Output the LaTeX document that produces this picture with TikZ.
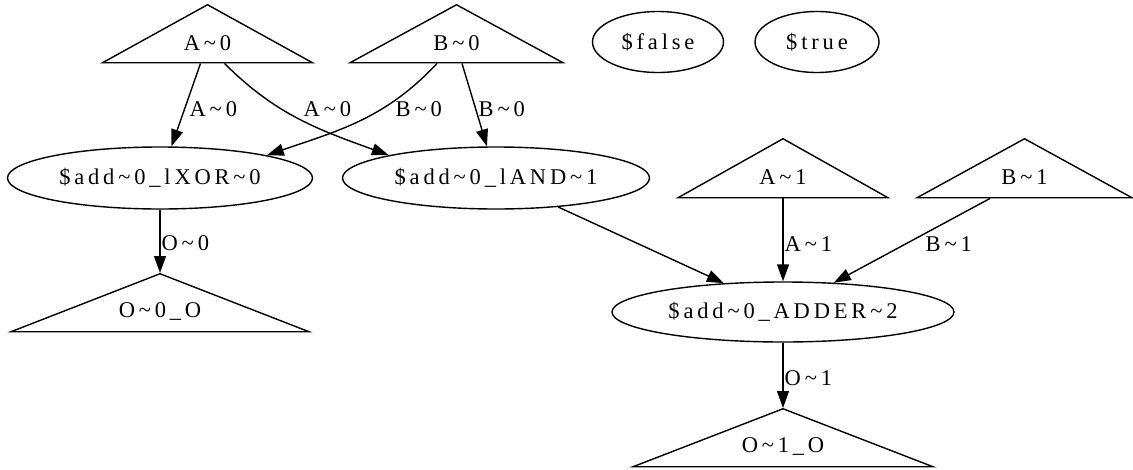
\documentclass[tikz,border=0pt]{standalone}
\usepackage{fontspec}
\setmainfont{Liberation Serif}[LetterSpace=17]
\usetikzlibrary{arrows.meta,shapes.geometric}
\newcommand\tld{\textasciitilde}

\begin{document}
\begin{tikzpicture}[
  x=1pt,y=-1pt,font=\fontsize{22.5}{27}\selectfont,line width=1.4pt,
  port/.style={draw,isosceles triangle,shape border rotate=90,
               isosceles triangle apex angle=140,isosceles triangle stretches,
               inner sep=0pt,anchor=apex},
  cell/.style={draw,ellipse,inner sep=0pt,minimum height=62pt},
  const/.style={draw,ellipse,inner sep=0pt,minimum height=61pt},
  wire/.style={-{Triangle[length=17pt,width=12pt]}},
  lab/.style={anchor=west,inner sep=0pt}
]
\useasboundingbox (0,0) rectangle (1133,469);

% ---- ports in
\node[port,minimum width=210pt,minimum height=58pt] (A0) at (207.5,4) {};
\node[port,minimum width=213pt,minimum height=58pt] (B0) at (456.5,4) {};
\node[port,minimum width=210pt,minimum height=59pt] (A1) at (783,138) {};
\node[port,minimum width=215pt,minimum height=59pt] (B1) at (1024.5,138) {};
\node (A0t) at ([yshift=-39pt]A0.apex) {A\tld0};
\node (B0t) at ([yshift=-39pt]B0.apex) {B\tld0};
\node (A1t) at ([yshift=-39pt]A1.apex) {A\tld1};
\node (B1t) at ([yshift=-39pt]B1.apex) {B\tld1};

% ---- constants
\node[const,minimum width=131pt] (cf) at (658,42) {\$false};
\node[const,minimum width=124pt] (ct) at (817,42) {\$true};

% ---- cells
\node[cell,minimum width=305pt] (xor) at (160,178) {\$add\tld0\_lXOR\tld0};
\node[cell,minimum width=307pt] (and) at (496,178) {\$add\tld0\_lAND\tld1};
\node[cell,minimum width=342pt,minimum height=60pt] (add) at (783,312) {\$add\tld0\_ADDER\tld2};

% ---- ports out
\node[port,minimum width=298pt,minimum height=58pt] (O0) at (160,273) {};
\node[port,minimum width=300pt,minimum height=58pt] (O1) at (783,408) {};
\node (O0t) at ([yshift=-38pt]O0.apex) {O\tld0\_O};
\node (O1t) at ([yshift=-38pt]O1.apex) {O\tld1\_O};

% ---- wires
\draw[wire] ([xshift=-7pt]A0.lower side) -- (xor.70);
\draw[wire] ([xshift=17pt]A0.lower side) to[out=-45,in=160] (and.168);
\draw[wire] ([xshift=-19.5pt]B0.lower side) to[out=-133,in=19] (xor.12);
\draw[wire] ([xshift=5.5pt]B0.lower side) -- (and.106);
\draw[wire] (xor) -- (O0.apex);
\draw[wire] (and.-25) -- (add.154);
\draw[wire] (A1.lower side) -- (add);
\draw[wire] ([xshift=-34.5pt]B1.lower side) -- (add.30);
\draw[wire] (add) -- (O1.apex);

% ---- wire labels
\node[lab] (lA0a) at (189,109) {A\tld0};
\node[lab] (lA0b) at (303,109) {A\tld0};
\node[lab] (lB0a) at (395,109) {B\tld0};
\node[lab] (lB0b) at (478,109) {B\tld0};
\node[lab] (lO0) at (161,243) {O\tld0};
\node[lab] (lA1) at (784,244) {A\tld1};
\node[lab] (lB1) at (925,244) {B\tld1};
\node[lab] (lO1) at (784,378) {O\tld1};
\end{tikzpicture}
\end{document}
